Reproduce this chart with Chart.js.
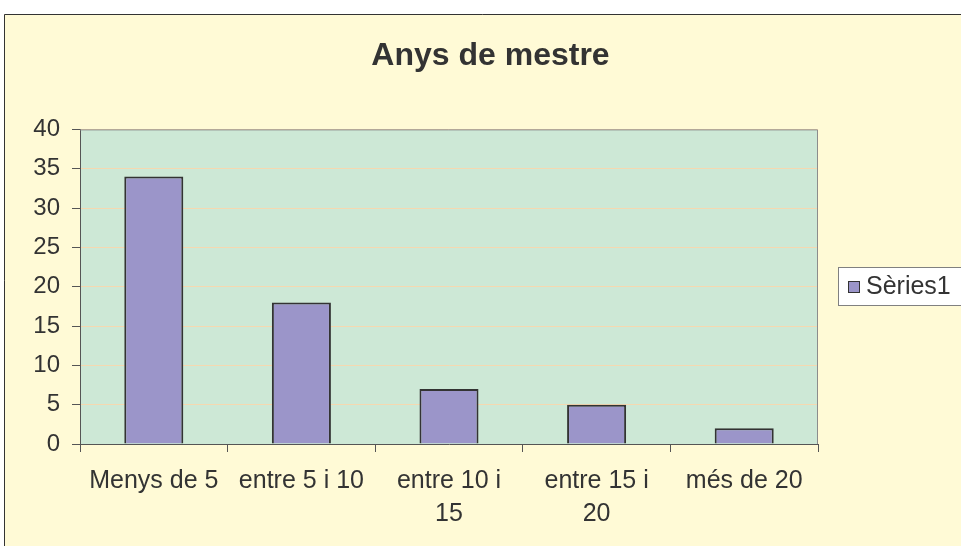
<!DOCTYPE html>
<html>
<head>
<meta charset="utf-8">
<script src="https://cdn.jsdelivr.net/npm/chart.js@4/dist/chart.umd.min.js"></script>
<style>
  body { margin: 0; background: #fff; }
  canvas { display: block; }
</style>
</head>
<body>
<canvas id="yearsChart" width="961" height="546"></canvas>
<script>
const categories = ["Menys de 5", "entre 5 i 10", ["entre 10 i", "15"], ["entre 15 i", "20"], "més de 20"];
const series1 = [34, 18, 7, 5, 2];
const seriesName = "Sèries1";
const yTicks = { min: 0, max: 40, step: 5 };

const FONT = "'Liberation Sans', Arial, sans-serif";

// page background, outer frame, plot fill and the legend box
const decor = {
  id: 'decor',
  beforeDraw(chart) {
    const ctx = chart.ctx;
    const a = chart.chartArea;
    ctx.save();
    ctx.fillStyle = '#ffffff';
    ctx.fillRect(0, 0, chart.width, chart.height);
    ctx.fillStyle = '#fffad6';
    ctx.fillRect(4, 14, chart.width, chart.height);
    ctx.strokeStyle = '#333';
    ctx.lineWidth = 1;
    ctx.beginPath();
    ctx.moveTo(4.5, chart.height);
    ctx.lineTo(4.5, 14.5);
    ctx.lineTo(chart.width, 14.5);
    ctx.stroke();
    ctx.fillStyle = '#cde8d6';
    ctx.fillRect(a.left, a.top, a.right - a.left, a.bottom - a.top);
    ctx.restore();
  },
  beforeDatasetsDraw(chart) {
    const ctx = chart.ctx;
    const a = chart.chartArea;
    ctx.save();
    ctx.strokeStyle = '#8c8c8c';
    ctx.lineWidth = 1;
    ctx.beginPath();
    ctx.moveTo(a.left, a.top + 0.5);
    ctx.lineTo(a.right - 0.5, a.top + 0.5);
    ctx.lineTo(a.right - 0.5, a.bottom);
    ctx.stroke();
    ctx.restore();
  },
  afterDraw(chart) {
    const ctx = chart.ctx;
    const ds = chart.data.datasets[0];
    ctx.save();
    ctx.fillStyle = '#ffffff';
    ctx.fillRect(838, 267, 140, 38);
    ctx.strokeStyle = '#808080';
    ctx.lineWidth = 1;
    ctx.strokeRect(838.5, 267.5, 140, 38);
    ctx.fillStyle = ds.backgroundColor;
    ctx.fillRect(848, 281, 12, 12);
    ctx.strokeStyle = '#333';
    ctx.strokeRect(848.5, 281.5, 11, 11);
    ctx.fillStyle = '#333';
    ctx.font = '25px ' + FONT;
    ctx.textBaseline = 'middle';
    ctx.fillText(ds.label, 866, 287);
    ctx.restore();
  }
};

new Chart(document.getElementById('yearsChart'), {
  type: 'bar',
  data: {
    labels: categories,
    datasets: [{
      label: seriesName,
      data: series1,
      backgroundColor: '#9b95c9',
      borderColor: '#333',
      borderWidth: 2,
      barPercentage: 0.4,
      categoryPercentage: 1
    }]
  },
  options: {
    responsive: false,
    animation: false,
    layout: { padding: { left: 20, right: 0, top: 0, bottom: 0 } },
    plugins: {
      legend: { display: false },
      tooltip: { enabled: false },
      title: {
        display: true,
        text: 'Anys de mestre',
        color: '#333',
        font: { family: FONT, size: 32, weight: 'bold' },
        padding: { top: 37, bottom: 54 }
      }
    },
    scales: {
      x: {
        afterFit(scale) { scale.height = 102; },
        grid: {
          offset: true,
          drawOnChartArea: false,
          tickLength: 8,
          tickColor: '#555'
        },
        border: { color: '#555', width: 1 },
        ticks: {
          color: '#333',
          font: { family: FONT, size: 25, lineHeight: 1.32 },
          maxRotation: 0,
          autoSkip: false,
          padding: 13
        }
      },
      y: {
        min: yTicks.min,
        max: yTicks.max,
        afterFit(scale) { scale.width = 60; },
        grid: {
          color: '#f5d8b0',
          tickLength: 8,
          tickColor: '#555'
        },
        border: { color: '#555', width: 1 },
        ticks: {
          stepSize: yTicks.step,
          color: '#333',
          font: { family: FONT, size: 24 },
          padding: 12
        }
      },
      // empty right-hand axis that only reserves the room for the legend
      yRight: {
        position: 'right',
        afterFit(scale) { scale.width = 143; },
        grid: { display: false },
        border: { display: false },
        ticks: { display: false }
      }
    }
  },
  plugins: [decor]
});
</script>
</body>
</html>
